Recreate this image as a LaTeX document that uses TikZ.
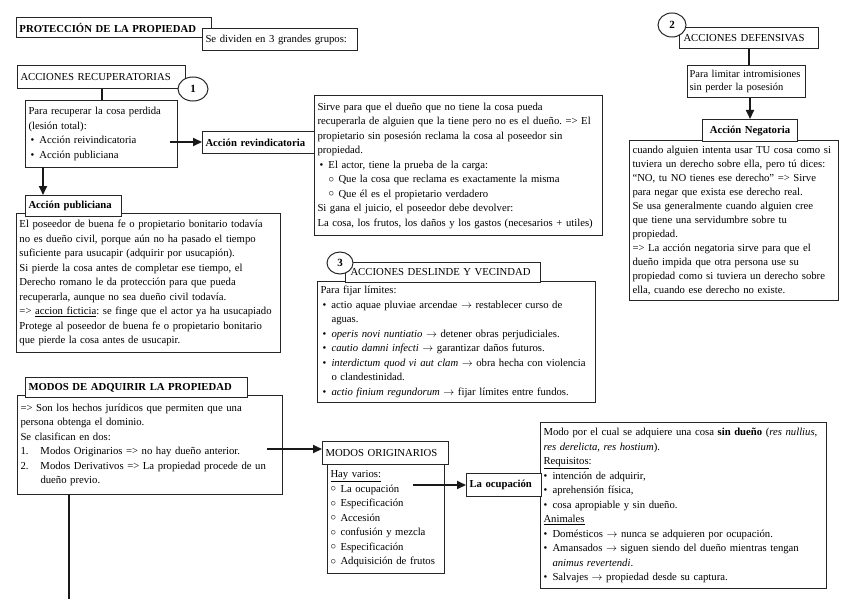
\documentclass[tikz,border=0pt]{standalone}
\usepackage{fontspec}
\setmainfont{Liberation Serif}
\usetikzlibrary{shapes.geometric,arrows.meta}
\frenchspacing
\newcommand\mybul{\makebox[9pt][l]{\textbullet}}
\newcommand\myobul{\makebox[10pt][l]{\raisebox{0.1ex}{$\circ$}}}
\newcommand\myind{\hspace*{9pt}}
\newcommand\jlneg[1]{\makebox[203pt][s]{#1}}
\begin{document}
\begin{tikzpicture}[x=1pt,y=-1pt,
  box/.style={draw=black!85, line width=1pt, fill=white, inner xsep=3pt, inner ysep=2pt,
    anchor=north west, align=left, font=\fontsize{10.7}{14.5}\selectfont},
  lab/.style={box, font=\fontsize{10.7}{12}\selectfont\bfseries},
  num/.style={ellipse, draw=black!85, line width=1pt, fill=white, inner sep=0pt,
    font=\fontsize{11}{12}\selectfont\bfseries},
  conn/.style={line width=2pt, draw=black!90},
  arr/.style={conn, -{Triangle[length=9pt,width=8pt]}}]
\fill[white] (0,0) rectangle (848,599);
\useasboundingbox (0,0) rectangle (848,599);

% --- top left
\node[lab, text width=189pt, minimum height=20pt] (title) at (16,17) {PROTECCIÓN DE LA PROPIEDAD};
\node[box, text width=149pt, minimum height=22pt] (grupos) at (202,28) {Se dividen en 3 grandes grupos:};

\node[box, text width=162pt, minimum height=23pt] (recup) at (17,65) {ACCIONES RECUPERATORIAS};
\node[num, minimum width=30pt, minimum height=24pt] (c1) at (193,89) {1};
\node[box, text width=146pt, minimum height=67pt] (para) at (25,100)
  {Para recuperar la cosa perdida\\(lesión total):\\
   \hspace*{2pt}\mybul Acción reivindicatoria\\
   \hspace*{2pt}\mybul Acción publiciana};
\node[lab, text width=108pt, minimum height=22pt] (revlab) at (202,131) {Acción revindicatoria};
\node[box, text width=282pt, minimum height=140pt] (rev) at (314,95)
  {Sirve para que el dueño que no tiene la cosa pueda\\
   recuperarla de alguien que la tiene pero no es el dueño. => El\\
   propietario sin posesión reclama la cosa al poseedor sin\\
   propiedad.\\
   \hspace*{2pt}\mybul El actor, tiene la prueba de la carga:\\
   \hspace*{11pt}\myobul Que la cosa que reclama es exactamente la misma\\
   \hspace*{11pt}\myobul Que él es el propietario verdadero\\
   Si gana el juicio, el poseedor debe devolver:\\
   La cosa, los frutos, los daños y los gastos (necesarios + utiles)};

\node[box, text width=258pt, minimum height=139pt] (pub) at (16,213)
  {El poseedor de buena fe o propietario bonitario todavía\\
   no es dueño civil, porque aún no ha pasado el tiempo\\
   suficiente para usucapir (adquirir por usucapión).\\
   Si pierde la cosa antes de completar ese tiempo, el\\
   Derecho romano le da protección para que pueda\\
   recuperarla, aunque no sea dueño civil todavía.\\
   => \underline{accion ficticia}: se finge que el actor ya ha usucapiado\\
   Protege al poseedor de buena fe o propietario bonitario\\
   que pierde la cosa antes de usucapir.};
\node[lab, text width=90pt, minimum height=21pt] (publab) at (25,195) {Acción publiciana};

% --- top right
\node[box, text width=131pt, inner xsep=4pt, minimum height=21pt] (def) at (679,27) {ACCIONES DEFENSIVAS};
\node[num, minimum width=28pt, minimum height=24pt] (c2) at (672,25) {2};
\node[box, text width=114pt, inner xsep=2pt, minimum height=32pt, font=\fontsize{10.5}{13}\selectfont] (lim) at (687,65)
  {\mbox{Para limitar intromisiones}\\sin perder la posesión};
\node[box, text width=203pt, minimum height=160pt, font=\fontsize{10.7}{14}\selectfont] (neg) at (629,140)
  {\jlneg{cuando alguien intenta usar TU cosa como si}\\
   \jlneg{tuviera un derecho sobre ella, pero tú dices:}\\
   \jlneg{“NO, tu NO tienes ese derecho” => Sirve}\\
   para negar que exista ese derecho real.\\
   \jlneg{Se usa generalmente cuando alguien cree}\\
   \jlneg{que tiene una servidumbre sobre tu}\\
   propiedad.\\
   \jlneg{=> La acción negatoria sirve para que el}\\
   \jlneg{dueño impida que otra persona use su}\\
   \jlneg{propiedad como si tuviera un derecho sobre}\\
   ella, cuando ese derecho no existe.};
\node[lab, text width=89pt, minimum height=22pt, align=center] (neglab) at (702,119) {Acción Negatoria};

% --- middle
\node[box, text width=272pt, minimum height=121pt] (des) at (317,281)
  {Para fijar límites:\\
   \hspace*{2pt}\mybul actio aquae pluviae arcendae $\rightarrow$ restablecer curso de\\
   \hspace*{2pt}\myind aguas.\\
   \hspace*{2pt}\mybul \textit{operis novi nuntiatio} $\rightarrow$ detener obras perjudiciales.\\
   \hspace*{2pt}\mybul \textit{cautio damni infecti} $\rightarrow$ garantizar daños futuros.\\
   \hspace*{2pt}\mybul \textit{interdictum quod vi aut clam} $\rightarrow$ obra hecha con violencia\\
   \hspace*{2pt}\myind o clandestinidad.\\
   \hspace*{2pt}\mybul \textit{actio finium regundorum} $\rightarrow$ fijar límites entre fundos.};
\node[box, text width=185pt, inner xsep=5pt, minimum height=20pt] (deslab) at (345,262) {ACCIONES DESLINDE Y VECINDAD};
\node[num, minimum width=26pt, minimum height=22pt] (c3) at (340,263) {3};

% --- bottom
\node[box, text width=259pt, minimum height=99pt] (mod) at (17,395)
  {=> Son los hechos jurídicos que permiten que una\\
   persona obtenga el dominio.\\
   Se clasifican en dos:\\
   \makebox[20pt][l]{1.}Modos Originarios => no hay dueño anterior.\\
   \makebox[20pt][l]{2.}Modos Derivativos => La propiedad procede de un\\
   \hspace*{20pt}dueño previo.};
\node[lab, text width=216pt, minimum height=20pt] (modlab) at (25,377) {MODOS DE ADQUIRIR LA PROPIEDAD};

\node[box, text width=111pt, minimum height=109pt] (sub) at (327,464)
  {\underline{Hay varios:}\\
   \myobul La ocupación\\
   \myobul Especificación\\
   \myobul Accesión\\
   \myobul confusión y mezcla\\
   \myobul Especificación\\
   \myobul Adquisición de frutos};
\node[box, text width=120pt, minimum height=23pt] (orig) at (322,441) {MODOS ORIGINARIOS};

\node[box, text width=280pt, minimum height=166pt] (ocut) at (540,422)
  {Modo por el cual se adquiere una cosa \textbf{sin dueño} (\textit{res nullius},\\
   \textit{res derelicta}, \textit{res hostium}).\\
   \underline{Requisitos}:\\
   \mybul intención de adquirir,\\
   \mybul aprehensión física,\\
   \mybul cosa apropiable y sin dueño.\\
   \underline{Animales}\\
   \mybul Domésticos $\rightarrow$ nunca se adquieren por ocupación.\\
   \mybul Amansados $\rightarrow$ siguen siendo del dueño mientras tengan\\
   \myind\textit{animus revertendi}.\\
   \mybul Salvajes $\rightarrow$ propiedad desde su captura.};
\node[lab, text width=69pt, minimum height=23pt] (ocu) at (466,473) {La ocupación};

% --- connectors
\draw[conn] (recup.south) -- (recup.south |- para.north);
\coordinate (a1) at (170,142);
\draw[arr] (a1) -- (a1 -| revlab.west);
\coordinate (p1) at (43,167);
\draw[arr] (p1) -- (p1 |- publab.north);
\draw[conn] (def.south) -- (def.south |- lim.north);
\draw[arr] (lim.south -| neglab.north) -- (neglab.north);
\coordinate (a3) at (267,449);
\draw[arr] (a3) -- (a3 -| orig.west);
\coordinate (a4) at (413,485);
\draw[arr] (a4) -- (a4 -| ocu.west);
\coordinate (e1) at (69,599);
\draw[conn] (mod.south -| e1) -- (e1);
\end{tikzpicture}
\end{document}
